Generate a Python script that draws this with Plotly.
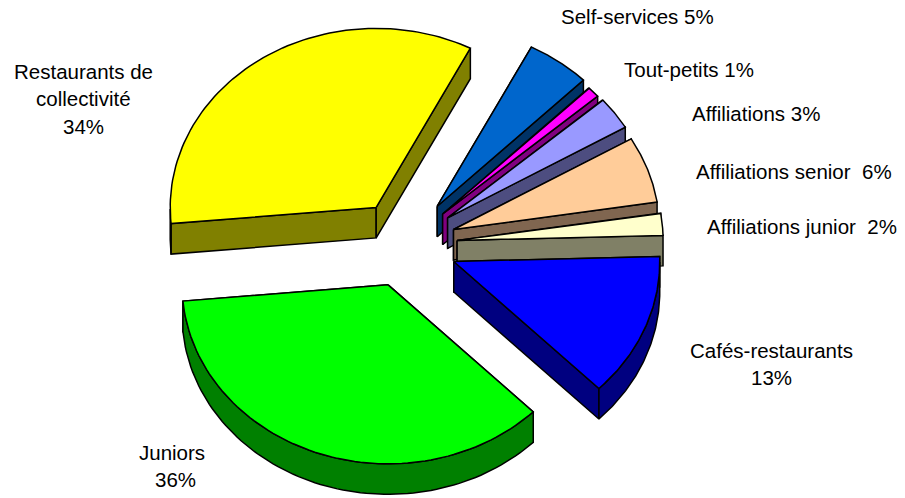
import numpy as np
import plotly.graph_objects as go

# Slices in drawing order, back of the pie first
categories = ["Restaurants de collectivité", "Self-services", "Tout-petits", "Affiliations",
              "Affiliations senior", "Affiliations junior", "Cafés-restaurants", "Juniors"]
shares = [34, 5, 1, 3, 6, 2, 13, 36]
top_colors = ["#FFFF00", "#0066CC", "#FF00FF", "#9999FF", "#FFCC99", "#FFFFCC", "#0000FF", "#00FF00"]
side_colors = ["#808000", "#003366", "#800080", "#4D4D80", "#806650", "#808066", "#000080", "#008000"]
explosion = [0.25, 0.265, 0.25, 0.255, 0.25, 0.254, 0.255, 0.24]

# Pie geometry on the page
CENTER_X, CENTER_Y = 405.0, 244.5
RADIUS_X, RADIUS_Y = 206.0, 179.0
DEPTH = 30.5
START_ANGLE = 174.8  # where the first slice begins, clockwise from 3 o'clock

# Label text, one entry per line: (text, centre x, centre y)
label_lines = [
    (f"Self-services {shares[1]}%", 637, 16),
    (f"Tout-petits {shares[2]}%", 688.5, 69),
    (f"Affiliations {shares[3]}%", 756, 113),
    (f"Affiliations senior\u00a0 {shares[4]}%", 794, 171),
    (f"Affiliations junior\u00a0 {shares[5]}%", 802, 226),
    ("Cafés-restaurants", 771, 350),
    (f"{shares[6]}%", 771, 377),
    ("Juniors", 172, 452),
    (f"{shares[7]}%", 175, 479),
    ("Restaurants de", 83, 71),
    ("collectivité", 83, 98),
    (f"{shares[0]}%", 83, 126),
]

fig = go.Figure()


def add_poly(xs, ys, fill):
    fig.add_trace(go.Scatter(
        x=xs, y=ys, mode="lines", fill="toself", fillcolor=fill,
        line=dict(color="#000000", width=1.5), hoverinfo="skip", showlegend=False,
    ))


angle = START_ANGLE
for value, top, side, ex in zip(shares, top_colors, side_colors, explosion):
    sweep = value * 3.6
    a0, a1 = np.radians(angle), np.radians(angle + sweep)
    mid = (a0 + a1) / 2
    apex_x = CENTER_X + ex * RADIUS_X * np.cos(mid)
    apex_y = CENTER_Y + ex * RADIUS_Y * np.sin(mid)

    t = np.linspace(a0, a1, 80)
    arc_x = apex_x + RADIUS_X * np.cos(t)
    arc_y = apex_y + RADIUS_Y * np.sin(t)

    # Straight cut faces, extruded downwards
    for ax, ay in ((arc_x[0], arc_y[0]), (arc_x[-1], arc_y[-1])):
        add_poly([apex_x, ax, ax, apex_x, apex_x],
                 [apex_y, ay, ay + DEPTH, apex_y + DEPTH, apex_y], side)

    # Outer rim, only where the arc faces the viewer
    front = np.sin(t) >= 0
    if front.any():
        rx, ry = arc_x[front], arc_y[front]
        add_poly(np.r_[rx, rx[::-1], rx[0]], np.r_[ry, ry[::-1] + DEPTH, ry[0]], side)

    # Top face
    add_poly(np.r_[apex_x, arc_x, apex_x], np.r_[apex_y, arc_y, apex_y], top)
    angle += sweep

for text, x, y in label_lines:
    fig.add_annotation(
        x=x, y=y, text=text, showarrow=False, xanchor="center", yanchor="middle",
        font=dict(family="Liberation Sans, Arial, sans-serif", size=20.5, color="#000000"),
    )

fig.update_layout(
    width=905, height=498, margin=dict(l=0, r=0, t=0, b=0),
    paper_bgcolor="#FFFFFF", plot_bgcolor="#FFFFFF", showlegend=False,
    xaxis=dict(range=[0, 905], visible=False, fixedrange=True),
    yaxis=dict(range=[498, 0], visible=False, fixedrange=True),
)
fig.write_html("out.html", config={"displayModeBar": False})
